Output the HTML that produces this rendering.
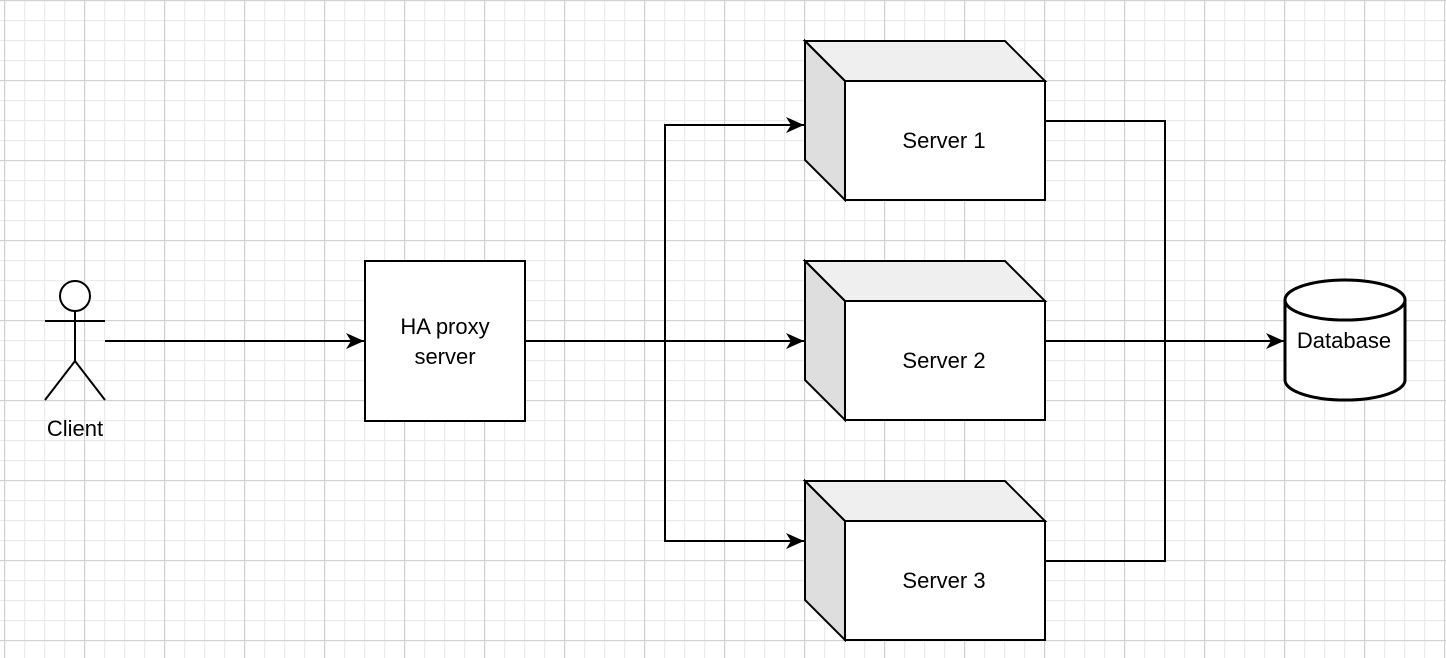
<!DOCTYPE html>
<html><head><style>
html,body{margin:0;padding:0;background:#fff;}
svg{display:block;}
text{font-family:"Liberation Sans",Helvetica,Arial,sans-serif;font-size:22px;fill:#000;}
</style></head><body>
<svg width="1446" height="658" viewBox="0 0 1446 658" xmlns="http://www.w3.org/2000/svg">
<defs>
<pattern id="minor" width="20" height="20" patternUnits="userSpaceOnUse" x="4" y="0">
<path d="M0 0.5H20M0.5 0V20" stroke="#ebebeb" stroke-width="1.5" fill="none"/>
</pattern>
<pattern id="major" width="80" height="80" patternUnits="userSpaceOnUse" x="4" y="0">
<path d="M0 0.5H80M0.5 0V80" stroke="#d0d0d0" stroke-width="1.2" fill="none"/>
</pattern>
<marker id="arr" markerWidth="20" markerHeight="16" refX="18" refY="8" orient="auto" markerUnits="userSpaceOnUse">
<path d="M0 0L18 8L0 16L5 8Z" fill="#000"/>
</marker>
</defs>
<rect width="1446" height="658" fill="url(#minor)"/>
<rect width="1446" height="658" fill="url(#major)"/>

<g stroke="#000" stroke-width="2" fill="none">
<path d="M105 341H364" marker-end="url(#arr)"/>
<path d="M525 341H804" marker-end="url(#arr)"/>
<path d="M665 341V125H804" marker-end="url(#arr)"/>
<path d="M665 341V541H804" marker-end="url(#arr)"/>
<path d="M1045 121H1165V561H1045"/>
<path d="M1045 341H1284" marker-end="url(#arr)"/>
</g>

<g stroke="#000" stroke-width="2" fill="#fff">
<circle cx="75" cy="296" r="15"/>
<path d="M75 311V361M45 321H105M75 361L45 400M75 361L105 400" fill="none"/>
</g>
<text x="75" y="436" text-anchor="middle">Client</text>

<rect x="365" y="261" width="160" height="160" fill="#fff" stroke="#000" stroke-width="2"/>
<text x="445" y="334" text-anchor="middle">HA proxy</text>
<text x="445" y="364" text-anchor="middle">server</text>

<g id="s1">
<path d="M805 41H1005L1045 81H845Z" fill="#efefef" stroke="#000" stroke-width="2"/>
<path d="M805 41L845 81V200L805 160Z" fill="#dedede" stroke="#000" stroke-width="2"/>
<rect x="845" y="81" width="200" height="119" fill="#fff" stroke="#000" stroke-width="2"/>
</g>
<use href="#s1" y="220"/>
<use href="#s1" y="440"/>
<text x="944" y="148" text-anchor="middle">Server 1</text>
<text x="944" y="368" text-anchor="middle">Server 2</text>
<text x="944" y="588" text-anchor="middle">Server 3</text>

<g stroke="#000" stroke-width="3" fill="#fff">
<path d="M1285 300V380A60 20 0 0 0 1405 380V300"/>
<ellipse cx="1345" cy="300" rx="60" ry="20"/>
</g>
<text x="1344" y="348" text-anchor="middle">Database</text>
</svg>
</body></html>
